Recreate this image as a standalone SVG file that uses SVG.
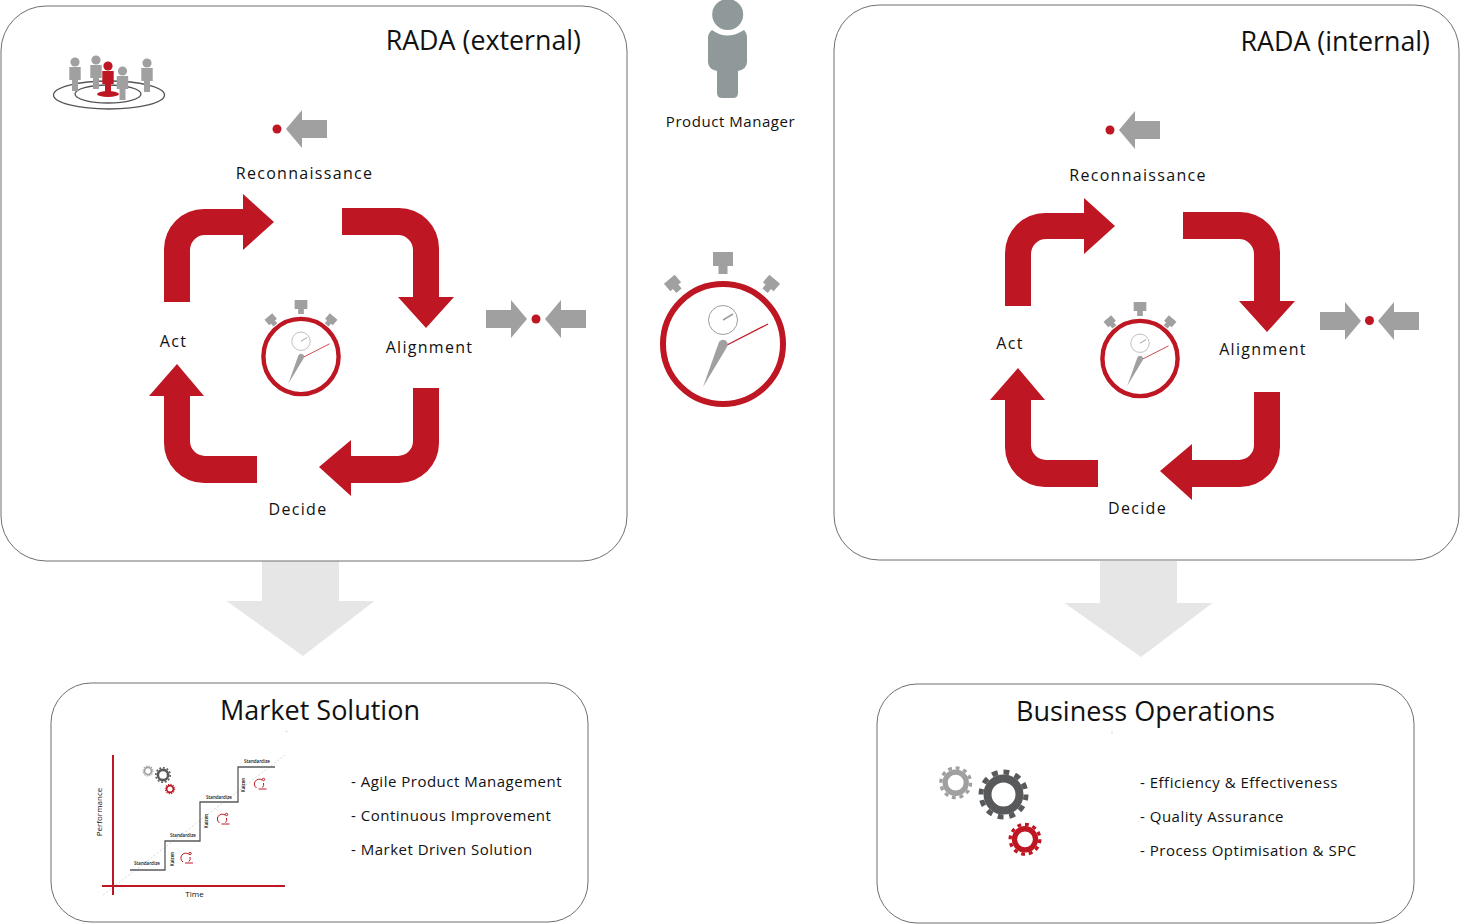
<svg xmlns="http://www.w3.org/2000/svg" width="1460" height="924" viewBox="0 0 1460 924">
<style>
text{font-family:"Open Sans","Liberation Sans",sans-serif;fill:#111}
.box{fill:#fff;stroke:#6f6f6f;stroke-width:1}
.title{font-size:26.800px;text-anchor:end}
.sub{font-size:27px;text-anchor:middle}
.lab{font-size:16px;letter-spacing:1.300px;text-anchor:middle}
.pm{font-size:15px;letter-spacing:.55px;text-anchor:middle}
.li{font-size:15px;letter-spacing:.5px}
.tiny{font-size:4.500px;text-anchor:middle;font-weight:600}
.r{fill:#be1622}
.g{fill:#a0a0a0}
.big{fill:#e6e6e6}
.dot{fill:#ddd}
</style>
<defs>
<g id="loop">
<path class="r" d="M164 302V249A40 40 0 0 1 204 209H243V194L274 222L243 250V235H205A15 15 0 0 0 190 250V302Z"/>
<path class="r" d="M342 208H399A40 40 0 0 1 439 248V297H454L426 328L398 297H413V250A15 15 0 0 0 398 235H342Z"/>
<path class="r" d="M439 388V443A40 40 0 0 1 399 483H351V496L319 467L351 440V456H398A15 15 0 0 0 413 441V388Z"/>
<path class="r" d="M257 483H204A40 40 0 0 1 164 443V396H149L177 364L204 396H190V441A15 15 0 0 0 205 456H257Z"/>
</g>
<path id="top" class="g" d="M-10-92H10V-78H4.500V-70H-4.500V-78H-10Z"/>
<path id="knob" class="g" d="M-7-5H7V5H3.500V10H-3.500V5H-7Z"/>
<g id="face">
<circle cy="-24" r="14.500" fill="none" stroke="#9d9d9d" stroke-width="1"/>
<path d="M0-24L10-30" stroke="#9d9d9d" stroke-width="1.500"/>
<path d="M4 1L45-20" stroke="#be1622" stroke-width="1.200"/>
<path class="g" d="M-20 43L-4-2A4.500 4.500 0 1 1 4 3Z"/>
</g>
<path id="arrowL" class="g" d="M0 0L16-19V-9H41V9H16V19Z"/>
<g id="gear">
<circle r="16" fill="none" stroke="currentColor" stroke-width="8"/>
<circle r="22.500" fill="none" stroke="currentColor" stroke-width="5" pathLength="24" stroke-dasharray="1 1"/>
</g>
<g id="man">
<circle r="4.600"/>
<path d="M-5.700 5H5.700V18H3V29H-3V18H-5.700Z"/>
</g>
<g id="kz" fill="none" stroke="#be1622" stroke-width="1">
<path d="M-3 4A4.500 4.500 0 1 1 2.500-4"/><path d="M3 3.500A4.500 4.500 0 0 0 4-1"/><path d="M-1 5H7"/><circle cx="4" cy="-4.500" r="1.200"/>
</g>
</defs>

<g id="connectors">
<path class="big" d="M262 561H339V601H374.500L303 656L226.500 601H262Z"/>
<path class="big" d="M1100 561H1177V603H1212.500L1141 657L1064.500 603H1100Z"/>
</g>

<g id="rada-external">
<rect class="box" x="1" y="6" width="626" height="555" rx="45"/>
<text class="title" x="581" y="50">RADA (external)</text>
<g id="stakeholders">
<ellipse cx="109" cy="95" rx="55.500" ry="14" fill="none" stroke="#555" stroke-width="1.300"/>
<ellipse cx="108" cy="94" rx="33" ry="9" fill="none" stroke="#555" stroke-width="1.300"/>
<ellipse cx="108" cy="94" rx="11" ry="3" class="r"/>
<use href="#man" x="75" y="62" fill="#a0a0a0"/>
<use href="#man" x="96" y="60" fill="#a0a0a0"/>
<use href="#man" x="108" y="66" fill="#be1622"/>
<use href="#man" x="122.500" y="71" fill="#a0a0a0"/>
<use href="#man" x="147" y="63" fill="#a0a0a0"/>
</g>
<use href="#loop"/>
<use href="#top" transform="translate(301,358.500) scale(.635)"/>
<use href="#knob" transform="translate(270.700,319.300) rotate(-40) scale(.72)"/>
<use href="#knob" transform="translate(331.300,319.300) rotate(40) scale(.72)"/>
<circle cx="301" cy="356.500" r="37.600" fill="#fff" stroke="#be1622" stroke-width="4.400"/>
<use href="#face" transform="translate(301,356.500) scale(.635)"/>
<circle class="r" cx="277" cy="129" r="4.500"/>
<use href="#arrowL" x="286" y="129"/>
<use href="#arrowL" transform="translate(527,319) scale(-1,1)"/>
<circle class="r" cx="536" cy="319" r="4.500"/>
<use href="#arrowL" x="545" y="319"/>
<text class="lab" x="304.500" y="179">Reconnaissance</text>
<text class="lab" x="429.500" y="353">Alignment</text>
<text class="lab" x="298" y="515">Decide</text>
<text class="lab" x="173.500" y="347">Act</text>
</g>

<g id="product-manager">
<circle cx="727.700" cy="14.500" r="15.500" fill="#8f9999"/>
<path fill="#8f9999" d="M712 30Q727 41 744 30Q747 33 747 38V62Q747 69 738 71V93Q738 98 733 98H722Q717 98 717 93V71Q708 69 708 62V38Q708 33 712 30Z"/>
<text class="pm" x="730.500" y="127">Product Manager</text>
</g>

<g id="stopwatch">
<use href="#top" transform="translate(723,344)"/>
<use href="#knob" transform="translate(672.500,283) rotate(-40)"/>
<use href="#knob" transform="translate(771.500,283) rotate(40)"/>
<circle cx="723" cy="344" r="60" fill="#fff" stroke="#be1622" stroke-width="6"/>
<use href="#face" transform="translate(723,344)"/>
</g>

<g id="rada-internal">
<rect class="box" x="834" y="5" width="625" height="555" rx="45"/>
<text class="title" x="1430" y="51">RADA (internal)</text>
<use href="#loop" x="841" y="4"/>
<use href="#top" transform="translate(1140,360.500) scale(.635)"/>
<use href="#knob" transform="translate(1109.700,321.300) rotate(-40) scale(.72)"/>
<use href="#knob" transform="translate(1170.300,321.300) rotate(40) scale(.72)"/>
<circle cx="1140" cy="358.500" r="37.600" fill="#fff" stroke="#be1622" stroke-width="4.400"/>
<use href="#face" transform="translate(1140,358.500) scale(.635)"/>
<circle class="r" cx="1110" cy="130" r="4.500"/>
<use href="#arrowL" x="1119" y="130"/>
<use href="#arrowL" transform="translate(1361,321) scale(-1,1)"/>
<circle class="r" cx="1369.500" cy="320.500" r="4.500"/>
<use href="#arrowL" x="1378" y="321"/>
<text class="lab" x="1138" y="181">Reconnaissance</text>
<text class="lab" x="1263" y="355">Alignment</text>
<text class="lab" x="1137.500" y="514">Decide</text>
<text class="lab" x="1010" y="349">Act</text>
</g>

<g id="market-solution">
<rect class="box" x="51" y="683" width="537" height="239" rx="40"/>
<text class="sub" x="320" y="720">Market Solution</text>
<circle class="dot" cx="286.500" cy="731.500" r="1"/>
<g id="chart">
<path d="M103 895L285 755" stroke="#ccc" stroke-width=".8" stroke-dasharray="2 2"/>
<path d="M113 755V895M102 886H285" stroke="#be1622" stroke-width="2" fill="none"/>
<path d="M130 870H165V841H200V802H238V767H275" fill="none" stroke="#58595b" stroke-width="1.300"/>
<text class="tiny" x="147" y="865">Standardize</text>
<text class="tiny" x="183" y="837">Standardize</text>
<text class="tiny" x="219" y="799">Standardize</text>
<text class="tiny" x="257" y="763">Standardize</text>
<text class="tiny" transform="translate(174,859) rotate(-90)">Kaizen</text>
<text class="tiny" transform="translate(208,821) rotate(-90)">Kaizen</text>
<text class="tiny" transform="translate(245,785) rotate(-90)">Kaizen</text>
<use href="#kz" x="186" y="858"/>
<use href="#kz" x="222.500" y="819"/>
<use href="#kz" x="259.500" y="784"/>
<use href="#gear" transform="translate(148,771) scale(.22)" color="#a0a0a0"/>
<use href="#gear" transform="translate(163,775) scale(.32)" color="#58595b"/>
<use href="#gear" transform="translate(170,789) scale(.21)" color="#be1622"/>
<text x="194.500" y="897" style="font-size:8px;text-anchor:middle">Time</text>
<text transform="translate(102,812) rotate(-90)" style="font-size:8px;text-anchor:middle">Performance</text>
</g>
<text class="li" x="351" y="787">- Agile Product Management</text>
<text class="li" x="351" y="821">- Continuous Improvement</text>
<text class="li" x="351" y="855">- Market Driven Solution</text>
</g>

<g id="business-operations">
<rect class="box" x="877" y="684" width="537" height="239" rx="40"/>
<text class="sub" x="1145.500" y="721">Business Operations</text>
<circle class="dot" cx="1112" cy="732.500" r="1"/>
<use href="#gear" transform="translate(955.700,782.700) scale(.66)" color="#a0a0a0"/>
<use href="#gear" transform="translate(1003.500,794.500)" color="#58595b"/>
<use href="#gear" transform="translate(1025,839.300) scale(.66)" color="#be1622"/>
<text class="li" x="1140" y="788">- Efficiency &amp; Effectiveness</text>
<text class="li" x="1140" y="822">- Quality Assurance</text>
<text class="li" x="1140" y="856">- Process Optimisation &amp; SPC</text>
</g>
</svg>
